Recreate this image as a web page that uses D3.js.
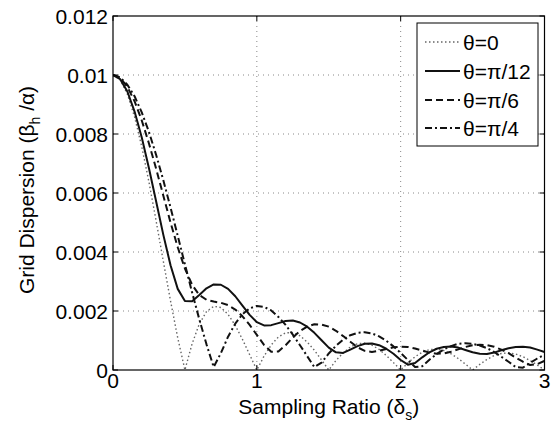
<!DOCTYPE html>
<html><head><meta charset="utf-8">
<script src="https://cdn.jsdelivr.net/npm/d3@7/dist/d3.min.js"></script>
<style>body{margin:0;background:#fff}svg{display:block}text{font-family:"Liberation Sans",Arial,Helvetica,sans-serif;fill:#000}</style>
</head><body><svg id="c" width="559" height="423"></svg>
<script>
const delta=[0,0.05,0.1,0.15,0.2,0.25,0.3,0.35,0.4,0.45,0.5,0.55,0.6,0.65,0.7,0.75,0.8,0.85,0.9,0.95,1,1.05,1.1,1.15,1.2,1.25,1.3,1.35,1.4,1.45,1.5,1.55,1.6,1.65,1.7,1.75,1.8,1.85,1.9,1.95,2,2.05,2.1,2.15,2.2,2.25,2.3,2.35,2.4,2.45,2.5,2.55,2.6,2.65,2.7,2.75,2.8,2.85,2.9,2.95,3];
const theta0=[0.01000,0.00984,0.00935,0.00858,0.00757,0.00637,0.00505,0.00368,0.00234,0.00109,0,0.00089,0.00156,0.00198,0.00216,0.00212,0.00189,0.00151,0.00104,0.00052,0,0.00047,0.00085,0.00112,0.00126,0.00127,0.00116,0.00095,0.00067,0.00034,0,0.00032,0.00058,0.00078,0.00089,0.00091,0.00084,0.00070,0.00049,0.00025,0,0.00024,0.00045,0.00060,0.00069,0.00071,0.00066,0.00055,0.00039,0.00020,0,0.00019,0.00036,0.00049,0.00056,0.00058,0.00054,0.00045,0.00032,0.00017,0];
const thetaPi12=[0.01000,0.00986,0.00944,0.00876,0.00788,0.00684,0.00571,0.00458,0.00355,0.00275,0.00234,0.00233,0.00254,0.00277,0.00290,0.00289,0.00275,0.00250,0.00218,0.00187,0.00162,0.00151,0.00152,0.00159,0.00166,0.00168,0.00161,0.00147,0.00126,0.00101,0.00076,0.00060,0.00058,0.00069,0.00081,0.00089,0.00090,0.00084,0.00072,0.00055,0.00034,0.00018,0.00024,0.00043,0.00060,0.00072,0.00078,0.00080,0.00076,0.00068,0.00060,0.00055,0.00054,0.00059,0.00067,0.00074,0.00078,0.00079,0.00076,0.00069,0.00061];
const thetaPi6=[0.01000,0.00990,0.00960,0.00911,0.00846,0.00768,0.00682,0.00591,0.00500,0.00416,0.00344,0.00289,0.00254,0.00238,0.00232,0.00228,0.00220,0.00205,0.00182,0.00153,0.00119,0.00085,0.00062,0.00063,0.00084,0.00110,0.00132,0.00147,0.00155,0.00154,0.00147,0.00133,0.00115,0.00096,0.00077,0.00065,0.00061,0.00065,0.00071,0.00077,0.00079,0.00078,0.00073,0.00066,0.00059,0.00055,0.00056,0.00062,0.00070,0.00078,0.00084,0.00086,0.00084,0.00079,0.00069,0.00057,0.00042,0.00028,0.00017,0.00020,0.00031];
const thetaPi4=[0.01000,0.00992,0.00967,0.00928,0.00873,0.00807,0.00729,0.00643,0.00551,0.00455,0.00358,0.00263,0.00172,0.00087,0.00010,0.00057,0.00113,0.00157,0.00189,0.00209,0.00217,0.00214,0.00202,0.00180,0.00153,0.00120,0.00084,0.00047,0.00010,0.00025,0.00056,0.00082,0.00103,0.00118,0.00126,0.00128,0.00124,0.00114,0.00099,0.00080,0.00058,0.00034,0.00010,0.00013,0.00035,0.00054,0.00070,0.00081,0.00089,0.00091,0.00089,0.00083,0.00074,0.00061,0.00045,0.00028,0.00010,0.00008,0.00024,0.00039,0.00052];
const seriesLabels=["θ=0","θ=π/12","θ=π/6","θ=π/4"];
const xTicks=[0,1,2,3];
const xTickLabels=["0","1","2","3"];
const yTicks=[0,0.002,0.004,0.006,0.008,0.01,0.012];
const yTickLabels=["0","0.002","0.004","0.006","0.008","0.01","0.012"];

const svg=d3.select("#c");
const L=113,R=544.5,T=16,B=370;
const x=d3.scaleLinear().domain([0,3]).range([L,R]);
const y=d3.scaleLinear().domain([0,0.012]).range([B,T]);
const FS=21;

svg.append("rect").attr("width",559).attr("height",423).attr("fill","#fff");

// grid
const g=svg.append("g");
g.selectAll("line.gx").data(xTicks.filter(d=>d>0&&d<3)).enter().append("line")
 .attr("x1",d=>x(d)).attr("x2",d=>x(d)).attr("y1",T).attr("y2",B)
 .attr("stroke","#888").attr("stroke-width",1).attr("stroke-dasharray","1,4");
g.selectAll("line.gy").data(yTicks.filter(d=>d>0&&d<0.012)).enter().append("line")
 .attr("y1",d=>y(d)).attr("y2",d=>y(d)).attr("x1",L).attr("x2",R)
 .attr("stroke","#888").attr("stroke-width",1).attr("stroke-dasharray","1,4");

// curves
const styles=[
 {data:theta0,stroke:"#666",w:1.4,dash:"1.5,2.5"},
 {data:thetaPi12,stroke:"#111",w:2,dash:null},
 {data:thetaPi6,stroke:"#111",w:2,dash:"7,4"},
 {data:thetaPi4,stroke:"#111",w:2,dash:"7,3,2,3"}
];
const line=d3.line().x((d,i)=>x(delta[i])).y(d=>y(d));
svg.append("defs").append("clipPath").attr("id","clip").append("rect")
 .attr("x",L).attr("y",T).attr("width",R-L).attr("height",B-T);
const cg=svg.append("g").attr("clip-path","url(#clip)");
styles.forEach(s=>{
 cg.append("path").attr("d",line(s.data)).attr("fill","none")
  .attr("stroke",s.stroke).attr("stroke-width",s.w)
  .attr("stroke-dasharray",s.dash).attr("stroke-linejoin","round");
});

// axes box and inward ticks
const ax=svg.append("g");
ax.append("rect").attr("x",L).attr("y",T).attr("width",R-L).attr("height",B-T)
 .attr("fill","none").attr("stroke","#000").attr("stroke-width",1.2);
const tl=5;
xTicks.forEach(d=>{
 ax.append("line").attr("x1",x(d)).attr("x2",x(d)).attr("y1",B).attr("y2",B-tl).attr("stroke","#000");
 ax.append("line").attr("x1",x(d)).attr("x2",x(d)).attr("y1",T).attr("y2",T+tl).attr("stroke","#000");
});
yTicks.forEach(d=>{
 ax.append("line").attr("x1",L).attr("x2",L+tl).attr("y1",y(d)).attr("y2",y(d)).attr("stroke","#000");
 ax.append("line").attr("x1",R).attr("x2",R-tl).attr("y1",y(d)).attr("y2",y(d)).attr("stroke","#000");
});
ax.selectAll("text.xt").data(xTicks).enter().append("text")
 .attr("x",d=>x(d)).attr("y",388).attr("text-anchor","middle").attr("font-size",FS)
 .text((d,i)=>xTickLabels[i]);
ax.selectAll("text.yt").data(yTicks).enter().append("text")
 .attr("x",L-5).attr("y",d=>y(d)+7.5).attr("text-anchor","end").attr("font-size",FS)
 .text((d,i)=>yTickLabels[i]);

// axis titles
const xt=svg.append("text").attr("x",(L+R)/2).attr("y",414).attr("text-anchor","middle").attr("font-size",FS);
xt.append("tspan").text("Sampling Ratio (δ");
xt.append("tspan").attr("font-size",14).attr("dy",6).text("s");
xt.append("tspan").attr("dy",-6).text(")");

const yt=svg.append("text").attr("transform","translate(34,190) rotate(-90)").attr("text-anchor","middle").attr("font-size",FS);
yt.append("tspan").text("Grid Dispersion (β");
yt.append("tspan").attr("font-size",14).attr("dy",6).text("h");
yt.append("tspan").attr("dy",-6).text(" /α)");

// legend
const lg=svg.append("g");
lg.append("rect").attr("x",417).attr("y",23).attr("width",121).attr("height",123)
 .attr("fill","#fff").attr("stroke","#000").attr("stroke-width",1);
const ly=[42,71,100,128];
styles.forEach((s,i)=>{
 lg.append("line").attr("x1",425).attr("x2",460).attr("y1",ly[i]).attr("y2",ly[i])
  .attr("stroke",s.stroke).attr("stroke-width",s.w).attr("stroke-dasharray",s.dash);
 lg.append("text").attr("x",463).attr("y",ly[i]+7.5).attr("font-size",FS).text(seriesLabels[i]);
});
</script></body></html>
